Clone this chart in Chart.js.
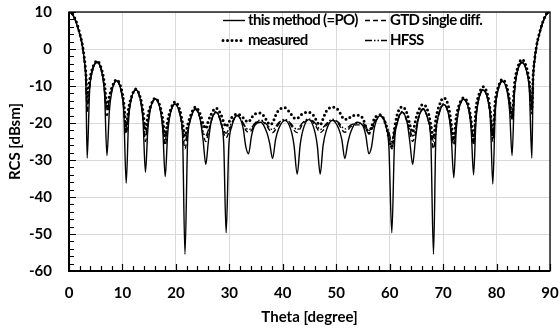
<!DOCTYPE html>
<html>
<head>
<meta charset="utf-8">
<script src="https://cdn.jsdelivr.net/npm/chart.js@4.4.1/dist/chart.umd.min.js"></script>
<style>
html, body { margin: 0; padding: 0; background: #fff; }
#wrap { width: 560px; height: 331px; }
</style>
</head>
<body>
<div id="wrap"><canvas id="rcsChart" width="560" height="331"></canvas></div>
<script>
// angles (nulls, flanks and lobe tops)
const theta = [
    0, 0.5, 1.0, 1.5, 2.0, 2.5, 2.9, 3.15,
    3.4, 3.85, 4.3, 5.25, 6.2, 6.65,
    7.1, 7.55, 8.0, 8.9, 9.8, 10.25,
    10.7, 11.15, 11.6, 12.5, 13.4, 13.85,
    14.3, 14.75, 15.2, 16.15, 17.1, 17.55,
    18.0, 18.45, 18.9, 19.85, 20.8, 21.25,
    21.7, 22.2, 22.7, 23.65, 24.6, 25.1,
    25.6, 26.05, 26.55, 27.5, 28.45, 28.95,
    29.4, 29.9, 30.45, 31.5, 32.55, 33.1,
    33.6, 34.15, 34.7, 35.85, 37.0, 37.55,
    38.1, 38.65, 39.25, 40.4, 41.55, 42.1,
    42.7, 43.25, 43.8, 44.85, 45.9, 46.45,
    47.0, 47.55, 48.15, 49.3, 50.45, 51.05,
    51.6, 52.15, 52.7, 53.85, 55.0, 55.55,
    56.1, 56.6, 57.15, 58.25, 59.3, 59.85,
    60.4, 60.9, 61.4, 62.35, 63.3, 63.8,
    64.3, 64.8, 65.3, 66.25, 67.2, 67.7,
    68.2, 68.65, 69.15, 70.1, 71.05, 71.5,
    72.0, 72.45, 72.9, 73.85, 74.8, 75.25,
    75.7, 76.15, 76.6, 77.5, 78.4, 78.85,
    79.3, 79.75, 80.2, 81.1, 82.0, 82.45,
    82.9, 83.35, 83.8, 84.75, 85.7, 86.15,
    86.6, 86.85, 87.1, 87.5, 88.0, 88.5, 89.0, 89.5, 90
];

// this method (=PO)
const poRcs = [
    10, 9.6, 8.4, 6.5, 4.0, 0.8, -3.5, -8.5,
    -29.5, -11.5, -6.5, -3.6, -6.8, -12.0,
    -28.8, -16.8, -11.6, -8.6, -11.7, -17.0,
    -36.3, -19.3, -14.0, -11.0, -14.1, -19.4,
    -33.3, -21.8, -16.5, -13.5, -16.6, -22.0,
    -34.5, -23.2, -17.9, -14.9, -18.0, -23.4,
    -55.5, -24.6, -19.3, -16.3, -19.4, -24.8,
    -31.2, -25.4, -20.1, -17.1, -20.2, -25.6,
    -49.7, -26.3, -21.0, -18.0, -21.2, -26.5,
    -28.3, -23.5, -20.8, -19.8, -22.5, -25.5,
    -29.6, -24.5, -21.5, -19.3, -22.0, -26.0,
    -33.8, -26.0, -21.8, -19.1, -21.8, -26.0,
    -33.8, -26.0, -22.0, -19.3, -21.5, -24.5,
    -29.6, -25.5, -22.5, -19.8, -20.8, -23.5,
    -28.3, -26.5, -21.2, -18.0, -21.0, -26.3,
    -49.7, -25.6, -20.2, -17.1, -20.1, -25.4,
    -31.2, -24.8, -19.4, -16.3, -19.3, -24.6,
    -55.5, -23.4, -18.0, -15.0, -17.9, -23.2,
    -34.8, -22.0, -16.6, -13.6, -16.5, -21.8,
    -34.0, -19.4, -14.1, -11.1, -14.0, -19.3,
    -36.5, -17.0, -11.7, -8.7, -11.6, -16.8,
    -28.8, -12.0, -6.8, -3.7, -6.5, -11.5,
    -29.5, -8.5, -3.5, 0.8, 4.0, 6.5, 8.4, 9.6, 10
];

// GTD single diff.
const gtdRcs = [
    10, 9.6, 8.4, 6.5, 4.0, 0.8, -3.4, -8.0,
    -17.0, -10.5, -6.3, -3.6, -6.7, -11.5,
    -18.0, -14.8, -11.3, -8.6, -11.6, -16.0,
    -23.0, -17.8, -13.8, -11.0, -14.0, -18.5,
    -25.0, -20.3, -16.3, -13.5, -16.5, -21.0,
    -26.0, -21.5, -17.7, -14.9, -17.9, -22.3,
    -27.0, -22.8, -19.1, -16.3, -19.2, -23.0,
    -25.0, -22.8, -19.8, -17.1, -19.9, -22.8,
    -24.0, -22.5, -20.3, -18.0, -20.2, -22.0,
    -22.5, -22.0, -20.5, -19.4, -20.8, -22.0,
    -22.6, -21.8, -20.3, -19.3, -20.6, -22.0,
    -22.6, -21.5, -20.2, -19.1, -20.2, -21.5,
    -22.6, -22.0, -20.6, -19.3, -20.3, -21.8,
    -22.5, -22.0, -21.0, -20.5, -20.5, -21.8,
    -22.8, -22.0, -20.2, -18.1, -20.5, -23.5,
    -27.0, -22.8, -19.8, -17.1, -19.9, -22.8,
    -25.0, -23.0, -19.2, -16.3, -19.1, -22.8,
    -27.0, -22.3, -17.9, -15.0, -17.8, -21.5,
    -26.0, -21.0, -16.5, -13.6, -16.4, -20.3,
    -26.0, -18.5, -14.0, -11.1, -13.9, -17.8,
    -25.0, -16.0, -11.6, -8.7, -11.4, -14.8,
    -19.0, -11.5, -6.7, -3.7, -6.4, -10.5,
    -17.5, -8.0, -3.4, 0.8, 4.0, 6.5, 8.4, 9.6, 10
];

// measured
const measuredRcs = [
    10, 9.8, 8.6, 6.8, 4.3, 1.2, -2.8, -6.5,
    -13.0, -8.5, -5.6, -3.2, -6.0, -9.5,
    -15.5, -12.8, -10.5, -8.3, -10.8, -14.5,
    -21.0, -16.0, -13.3, -10.8, -13.4, -16.8,
    -22.0, -18.0, -15.6, -13.3, -15.8, -19.0,
    -23.5, -19.5, -16.8, -14.3, -16.8, -20.0,
    -23.5, -20.5, -18.2, -15.7, -17.8, -20.2,
    -21.5, -19.5, -17.8, -16.0, -17.8, -19.8,
    -21.0, -19.8, -18.5, -17.6, -18.5, -19.4,
    -19.7, -18.6, -17.6, -17.3, -19.3, -20.4,
    -20.0, -18.0, -16.5, -15.9, -17.6, -18.6,
    -18.8, -18.0, -17.4, -17.1, -18.2, -19.8,
    -20.5, -18.8, -16.8, -15.7, -16.6, -18.2,
    -19.0, -19.0, -18.3, -17.9, -18.8, -21.0,
    -22.8, -21.0, -18.8, -17.8, -20.5, -24.0,
    -26.5, -21.5, -17.8, -15.6, -17.6, -20.5,
    -22.5, -19.5, -17.0, -15.0, -17.0, -20.5,
    -24.0, -18.8, -15.8, -13.2, -15.8, -20.0,
    -24.5, -18.5, -15.5, -13.2, -15.5, -19.5,
    -25.0, -16.0, -12.8, -10.2, -12.8, -17.0,
    -23.5, -14.0, -10.8, -8.2, -10.6, -14.0,
    -18.5, -9.5, -5.8, -2.8, -5.5, -9.0,
    -16.5, -7.0, -3.0, 1.0, 4.2, 6.7, 8.6, 9.8, 10
];

// HFSS
const hfssRcs = [
    10, 9.7, 8.5, 6.6, 4.1, 1.0, -3.0, -7.2,
    -15.0, -9.8, -6.0, -3.4, -6.5, -11.0,
    -16.5, -14.0, -11.0, -8.5, -11.4, -15.5,
    -22.0, -17.3, -13.6, -10.9, -13.8, -18.0,
    -23.5, -19.8, -16.1, -13.4, -16.3, -20.5,
    -24.5, -21.0, -17.5, -14.8, -17.7, -21.8,
    -25.0, -22.2, -18.9, -16.1, -19.0, -22.4,
    -23.5, -22.0, -19.5, -16.9, -19.6, -22.0,
    -22.8, -21.6, -19.9, -17.9, -19.9, -21.3,
    -21.8, -21.3, -20.2, -19.2, -20.4, -21.3,
    -21.8, -21.0, -19.9, -19.0, -20.2, -21.2,
    -21.8, -20.8, -19.8, -18.9, -19.8, -20.8,
    -21.8, -21.2, -20.2, -19.0, -19.9, -21.0,
    -21.6, -21.2, -20.6, -20.1, -20.1, -21.0,
    -22.0, -21.2, -19.8, -17.9, -20.0, -22.5,
    -25.0, -22.0, -19.5, -16.9, -19.6, -22.0,
    -23.5, -22.2, -18.9, -16.1, -18.9, -22.0,
    -25.0, -21.5, -17.6, -14.8, -17.6, -21.0,
    -24.5, -20.3, -16.3, -13.4, -16.2, -19.8,
    -24.5, -18.0, -13.8, -10.9, -13.7, -17.3,
    -23.5, -15.5, -11.4, -8.5, -11.2, -14.3,
    -18.0, -11.0, -6.5, -3.5, -6.2, -10.0,
    -15.5, -7.3, -3.0, 1.0, 4.1, 6.6, 8.5, 9.7, 10
];

const xTicks = [0, 10, 20, 30, 40, 50, 60, 70, 80, 90];
const yTicks = [10, 0, -10, -20, -30, -40, -50, -60];

const FONT = 'Lato, "Open Sans", sans-serif';

function toPoints(values) {
    return theta.map((t, i) => ({ x: t, y: values[i] }));
}

// frame + inward minor tick marks, like the office chart
const framePlugin = {
    id: 'frame',
    afterDatasetsDraw(chart) {
        const { ctx, chartArea: a, scales: { x, y } } = chart;
        ctx.save();
        ctx.strokeStyle = '#000';
        ctx.lineWidth = 1.2;
        ctx.beginPath();
        for (let v = 0; v <= 90; v += 2) {
            const px = Math.round(x.getPixelForValue(v)) + 0.5;
            ctx.moveTo(px, a.bottom);
            ctx.lineTo(px, a.bottom - (v % 10 === 0 ? 7 : 5));
        }
        for (let v = -60; v <= 10; v += 2) {
            const py = Math.round(y.getPixelForValue(v)) + 0.5;
            ctx.moveTo(a.left, py);
            ctx.lineTo(a.left + (v % 10 === 0 ? 7 : 5), py);
        }
        ctx.stroke();

        ctx.lineWidth = 1.3;
        ctx.strokeRect(a.left, a.top, a.right - a.left, a.bottom - a.top);
        ctx.lineWidth = 2;
        ctx.beginPath();
        ctx.moveTo(a.left, a.top);
        ctx.lineTo(a.left, a.bottom);
        ctx.lineTo(a.right, a.bottom);
        ctx.stroke();
        ctx.restore();
    }
};

// 2 x 2 legend in the top right corner
const legendPlugin = {
    id: 'cornerLegend',
    afterDraw(chart) {
        const ctx = chart.ctx;
        const items = [
            { text: 'this method (=PO)', x: 221, y: 20, ds: 0 },
            { text: 'GTD single diff.', x: 363, y: 20, ds: 1 },
            { text: 'measured', x: 221, y: 40, ds: 2 },
            { text: 'HFSS', x: 363, y: 40, ds: 3 }
        ];
        ctx.save();
        ctx.font = 'bold 15px ' + FONT;
        ctx.letterSpacing = '-0.7px';
        ctx.textBaseline = 'middle';
        ctx.fillStyle = '#000';
        items.forEach(it => {
            const d = chart.data.datasets[it.ds];
            ctx.strokeStyle = '#000';
            ctx.lineWidth = d.borderWidth;
            ctx.lineCap = d.borderCapStyle || 'butt';
            ctx.setLineDash(d.borderDash || []);
            ctx.beginPath();
            ctx.moveTo(it.x + 2, it.y + 0.5);
            ctx.lineTo(it.x + 24, it.y + 0.5);
            ctx.stroke();
            ctx.fillText(it.text, it.x + 27, it.y);
        });
        ctx.restore();
    }
};

const ctx = document.getElementById('rcsChart').getContext('2d');
const rcsChart = new Chart(ctx, {
    type: 'line',
    data: {
        datasets: [
            {
                label: 'this method (=PO)',
                data: toPoints(poRcs),
                borderColor: '#000',
                borderWidth: 1.4,
                order: 1
            },
            {
                label: 'GTD single diff.',
                data: toPoints(gtdRcs),
                borderColor: '#000',
                borderWidth: 1.4,
                borderDash: [5, 3],
                order: 2
            },
            {
                label: 'measured',
                data: toPoints(measuredRcs),
                borderColor: '#000',
                borderWidth: 3,
                borderDash: [0, 4.5],
                borderCapStyle: 'round',
                order: 0
            },
            {
                label: 'HFSS',
                data: toPoints(hfssRcs),
                borderColor: '#000',
                borderWidth: 1.4,
                borderDash: [7, 2, 1.5, 2, 1.5, 2],
                order: 3
            }
        ]
    },
    options: {
        responsive: false,
        devicePixelRatio: 1,
        animation: false,
        layout: { padding: { left: 0, right: 10, top: 12, bottom: 0 } },
        elements: {
            point: { radius: 0 },
            line: { cubicInterpolationMode: 'monotone', fill: false }
        },
        plugins: {
            legend: { display: false },
            tooltip: { enabled: false }
        },
        scales: {
            x: {
                type: 'linear',
                min: 0,
                max: 90,
                afterBuildTicks: scale => { scale.ticks = xTicks.map(v => ({ value: v })); },
                afterFit: scale => {
                    scale.height = 60;
                    scale.paddingLeft = 0;
                    scale.paddingRight = 0;
                },
                grid: { color: '#d9d9d9', lineWidth: 1, drawTicks: false },
                border: { display: false },
                ticks: {
                    color: '#000',
                    padding: 13,
                    maxRotation: 0,
                    font: { family: FONT, size: 15, weight: 'bold' }
                },
                title: {
                    display: true,
                    text: 'Theta [degree]',
                    color: '#000',
                    padding: { top: 0, bottom: 5 },
                    font: { family: FONT, size: 15, weight: 'bold' }
                }
            },
            y: {
                type: 'linear',
                min: -60,
                max: 10,
                afterBuildTicks: scale => { scale.ticks = yTicks.map(v => ({ value: v })); },
                afterFit: scale => {
                    scale.width = 69;
                    scale.paddingTop = 0;
                    scale.paddingBottom = 0;
                },
                grid: { color: '#d9d9d9', lineWidth: 1, drawTicks: false },
                border: { display: false },
                ticks: {
                    color: '#000',
                    padding: 17,
                    font: { family: FONT, size: 15, weight: 'bold' }
                },
                title: {
                    display: true,
                    text: 'RCS [dBsm]',
                    color: '#000',
                    padding: { top: 6, bottom: 0 },
                    font: { family: FONT, size: 15, weight: 'bold' }
                }
            }
        }
    },
    plugins: [framePlugin, legendPlugin]
});
</script>
</body>
</html>
